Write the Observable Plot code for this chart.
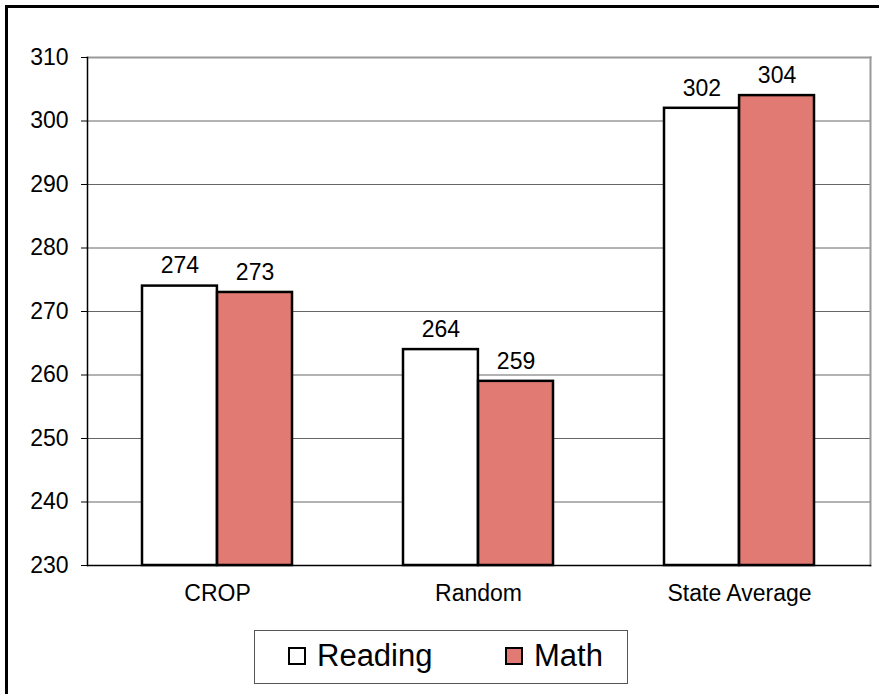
<!DOCTYPE html>
<html><head><meta charset="utf-8">
<script src="https://cdn.jsdelivr.net/npm/d3@7"></script>
<script src="https://cdn.jsdelivr.net/npm/@observablehq/plot@0.6"></script>
<style>
body{margin:0;background:#fff;font-family:"Liberation Sans",Arial,sans-serif;}
#wrap{position:relative;width:879px;height:694px;overflow:hidden;}
#frame{position:absolute;left:5px;top:5px;width:1000px;height:1000px;border-left:3px solid #000;border-top:3px solid #000;pointer-events:none;}
#chart{position:absolute;left:0;top:0;}
#legend{position:absolute;left:254px;top:630px;width:374px;height:54px;border:1px solid #555;box-sizing:border-box;background:#fff;}
.item{position:absolute;top:0;height:50px;display:flex;align-items:center;font-size:31px;color:#000;}
.sw{width:14px;height:14px;border:2px solid #000;margin-right:11px;}
</style>
</head><body>
<div id="wrap"><div id="chart"></div><div id="frame"></div><div id="legend"></div></div>
<script>
const categories = ["CROP", "Random", "State Average"];
const series = ["Reading", "Math"];
const reading = [274, 264, 302];
const math = [273, 259, 304];
const yTicks = [230, 240, 250, 260, 270, 280, 290, 300, 310];
const colors = ["#ffffff", "#E07A72"];

const data = categories.flatMap((c, i) => [
  {category: c, series: series[0], value: reading[i]},
  {category: c, series: series[1], value: math[i]}
]);

const W = 879, H = 694, mL = 87, mR = 9, mT = 57, mB = 129;
const pad = 0.4246;
const bw = (W - mL - mR) / categories.length * (1 - pad);
const half = bw / 2;
const font = '"Liberation Sans", Arial, sans-serif';
const fs = 23;

const chart = Plot.plot({
  width: W, height: H,
  marginLeft: mL, marginRight: mR, marginTop: mT, marginBottom: mB,
  style: {fontFamily: font, fontSize: fs + "px", color: "#000", background: "transparent"},
  x: {domain: categories, paddingInner: pad, paddingOuter: pad / 2, label: null},
  y: {domain: [230, 310], label: null},
  color: {domain: series, range: colors},
  marks: [
    Plot.gridY(yTicks.slice(1, -1), {stroke: "#666", strokeOpacity: 1}),
    Plot.frame({anchor: "top", stroke: "#999", strokeWidth: 2}),
    Plot.frame({anchor: "right", stroke: "#999", strokeWidth: 2}),
    Plot.barY(data.filter(d => d.series === series[0]), {
      x: "category", y1: 230, y2: "value", fill: "series",
      stroke: "#000", strokeWidth: 2.5, insetRight: half
    }),
    Plot.barY(data.filter(d => d.series === series[1]), {
      x: "category", y1: 230, y2: "value", fill: "series",
      stroke: "#000", strokeWidth: 2.5, insetLeft: half
    }),
    Plot.text(data.filter(d => d.series === series[0]), {
      x: "category", y: "value", text: d => String(d.value),
      dx: -half / 2, dy: -20, fontSize: fs, fill: "#000"
    }),
    Plot.text(data.filter(d => d.series === series[1]), {
      x: "category", y: "value", text: d => String(d.value),
      dx: half / 2, dy: -20, fontSize: fs, fill: "#000"
    }),
    Plot.frame({anchor: "left", stroke: "#000", strokeWidth: 1.5}),
    Plot.frame({anchor: "bottom", stroke: "#000", strokeWidth: 1.5}),
    Plot.axisY({ticks: yTicks, tickSize: 6, tickPadding: 13, fontSize: fs, label: null, stroke: "#000"}),
    Plot.axisX({tickSize: 0, tickPadding: 19, fontSize: fs, label: null})
  ]
});
document.getElementById("chart").appendChild(chart);

const legend = document.getElementById("legend");
const lefts = [33, 250];
series.forEach((s, i) => {
  const it = document.createElement("div");
  it.className = "item";
  it.style.left = lefts[i] + "px";
  const sw = document.createElement("div");
  sw.className = "sw";
  sw.style.background = colors[i];
  const t = document.createElement("span");
  t.textContent = s;
  it.appendChild(sw); it.appendChild(t);
  legend.appendChild(it);
});
</script>
</body></html>
